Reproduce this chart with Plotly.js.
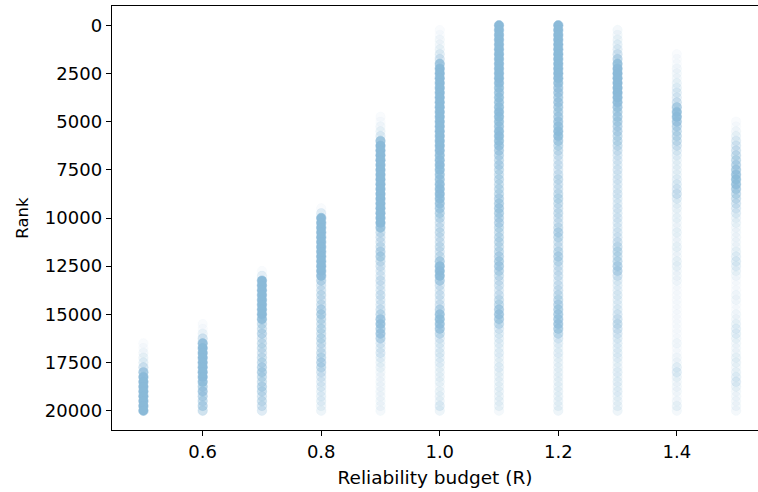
<!DOCTYPE html>
<html>
<head>
<meta charset="utf-8">
<script src="https://cdn.plot.ly/plotly-3.0.1.min.js"></script>
<style>
  html, body { margin: 0; padding: 0; background: #fff; }
  #chart { width: 758px; height: 492px; }
</style>
</head>
<body>
<div id="chart"></div>
<script>
// Reliability budgets on the x axis
const budgets = [0.5, 0.6, 0.7, 0.8, 0.9, 1.0, 1.1, 1.2, 1.3, 1.4, 1.5];

// Rank bins (width 250) on the y axis
const rankBins = [
  0, 250, 500, 750, 1000, 1250, 1500, 1750, 2000, 2250,
  2500, 2750, 3000, 3250, 3500, 3750, 4000, 4250, 4500, 4750,
  5000, 5250, 5500, 5750, 6000, 6250, 6500, 6750, 7000, 7250,
  7500, 7750, 8000, 8250, 8500, 8750, 9000, 9250, 9500, 9750,
  10000, 10250, 10500, 10750, 11000, 11250, 11500, 11750, 12000, 12250,
  12500, 12750, 13000, 13250, 13500, 13750, 14000, 14250, 14500, 14750,
  15000, 15250, 15500, 15750, 16000, 16250, 16500, 16750, 17000, 17250,
  17500, 17750, 18000, 18250, 18500, 18750, 19000, 19250, 19500, 19750,
  20000
];

// Number of runs landing in each rank bin, one array per budget
const runsR050 = [
  0,0,0,0,0,0,0,0,0,0, 0,0,0,0,0,0,0,0,0,0, 0,0,0,0,0,0,0,0,0,0,
  0,0,0,0,0,0,0,0,0,0, 0,0,0,0,0,0,0,0,0,0, 0,0,0,0,0,0,0,0,0,0,
  0,0,0,0,0,0,1,1,2,3, 4,8,25,60,100,100,100,100,100,100, 100
];
const runsR060 = [
  0,0,0,0,0,0,0,0,0,0, 0,0,0,0,0,0,0,0,0,0, 0,0,0,0,0,0,0,0,0,0,
  0,0,0,0,0,0,0,0,0,0, 0,0,0,0,0,0,0,0,0,0, 0,0,0,0,0,0,0,0,0,0,
  0,0,1,1,3,8,40,100,100,100, 100,100,100,100,40,18,25,15,12,15, 10
];
const runsR070 = [
  0,0,0,0,0,0,0,0,0,0, 0,0,0,0,0,0,0,0,0,0, 0,0,0,0,0,0,0,0,0,0,
  0,0,0,0,0,0,0,0,0,0, 0,0,0,0,0,0,0,0,0,0, 0,1,4,100,100,100,100,100,100,100,
  100,40,12,10,14,8,10,10,8,10, 12,15,18,12,10,14,12,8,10,8, 6
];
const runsR080 = [
  0,0,0,0,0,0,0,0,0,0, 0,0,0,0,0,0,0,0,0,0, 0,0,0,0,0,0,0,0,0,0,
  0,0,0,0,0,0,0,0,1,5, 100,100,100,100,100,100,100,100,100,100, 100,100,50,15,8,8,10,8,10,15,
  18,12,10,12,10,12,10,8,10,12, 15,12,8,6,5,5,4,4,4,3, 3
];
const runsR090 = [
  0,0,0,0,0,0,0,0,0,0, 0,0,0,0,0,0,0,0,0,1, 1,2,3,5,30,100,100,100,100,100,
  100,100,100,100,100,100,100,100,100,100, 100,100,30,10,8,8,10,15,18,10, 8,6,6,8,6,6,8,6,6,8,
  12,25,30,20,25,15,6,5,6,4, 3,3,2,2,2,2,2,2,2,2, 2
];
const runsR100 = [
  0,1,1,2,2,3,5,8,30,100, 100,100,100,100,100,100,100,100,100,100, 100,100,100,100,100,100,60,40,45,60,
  45,30,30,40,45,50,40,30,22,16, 12,8,8,10,8,8,10,8,10,20, 45,60,50,20,8,6,8,6,8,15,
  30,35,30,25,12,6,5,4,5,4, 4,3,3,3,3,2,3,3,3,5, 3
];
const runsR110 = [
  100,100,100,100,100,100,100,100,100,100, 100,100,50,35,30,35,30,35,50,45, 35,30,45,50,35,30,20,15,12,15,
  12,10,12,10,12,12,15,18,20,18, 15,15,12,10,12,12,10,12,15,18, 20,15,10,8,8,6,8,10,12,20,
  25,20,12,6,5,4,4,3,4,3, 3,4,3,3,3,3,3,3,3,3, 2
];
const runsR120 = [
  100,100,100,100,100,100,100,100,100,100, 100,60,35,25,25,20,25,20,18,20, 25,30,40,35,20,12,10,8,6,8,
  6,8,10,8,8,10,12,10,8,10, 8,8,10,15,12,8,8,12,15,12, 8,8,8,6,8,8,10,12,15,18,
  20,22,25,20,12,6,4,3,4,3, 3,3,3,3,3,3,3,3,3,3, 3
];
const runsR130 = [
  0,2,2,3,4,5,8,15,35,60, 90,90,90,90,90,60,40,25,18,20, 18,15,15,12,12,10,8,6,6,5,
  6,5,6,5,5,6,5,5,6,5, 6,5,5,6,6,8,10,12,10,12, 15,15,8,5,4,4,5,4,4,5,
  6,8,10,8,6,5,4,4,4,4, 3,3,4,3,4,3,4,3,3,3, 3
];
const runsR140 = [
  0,0,0,0,0,0,1,1,1,2, 2,2,3,4,5,5,8,20,40,45, 25,15,12,12,10,8,5,4,3,3,
  3,3,4,5,6,8,5,3,3,2, 3,2,2,3,2,2,3,2,2,3, 3,2,2,2,1,1,1,1,1,1,
  1,1,1,1,1,1,2,1,1,2, 2,4,5,3,2,2,2,1,2,3, 2
];
const runsR150 = [
  0,0,0,0,0,0,0,0,0,0, 0,0,0,0,0,0,0,0,0,0, 1,1,2,3,5,6,8,10,12,15,
  20,30,35,30,20,12,10,8,6,5, 3,3,2,2,2,2,2,3,4,5, 4,3,2,1,1,1,2,2,1,1,
  2,2,3,4,4,3,2,2,2,3, 3,2,3,4,5,3,2,2,2,2, 2
];

const runsByBudget = [runsR050, runsR060, runsR070, runsR080, runsR090, runsR100,
                      runsR110, runsR120, runsR130, runsR140, runsR150];

// Each marker is one translucent dot; stacked runs in a bin deepen its tint
const DOT_RGB = '138,185,216';
const DOT_ALPHA = 0.05;

const traces = budgets.map(function (b, k) {
  const runs = runsByBudget[k];
  const xs = [], ys = [], cols = [];
  rankBins.forEach(function (r, i) {
    const n = runs[i];
    if (n > 0) {
      xs.push(b);
      ys.push(r);
      const a = 1 - Math.pow(1 - DOT_ALPHA, n);
      cols.push('rgba(' + DOT_RGB + ',' + a.toFixed(4) + ')');
    }
  });
  return {
    type: 'scatter',
    mode: 'markers',
    x: xs,
    y: ys,
    hoverinfo: 'skip',
    showlegend: false,
    marker: {
      symbol: 'circle',
      size: 9.5,
      color: cols,
      line: { width: 0.5, color: cols }
    }
  };
});

const tickFont = { family: 'DejaVu Sans, sans-serif', size: 18, color: '#000' };
const xTitleFont = { family: 'DejaVu Sans, sans-serif', size: 18.5, color: '#000' };
const yTitleFont = { family: 'DejaVu Sans, sans-serif', size: 16.5, color: '#000' };

const layout = {
  width: 758,
  height: 492,
  margin: { l: 112, r: 0, t: 6, b: 62 },
  paper_bgcolor: '#fff',
  plot_bgcolor: '#fff',
  font: tickFont,
  xaxis: {
    range: [0.447, 1.537],
    tickvals: [0.6, 0.8, 1.0, 1.2, 1.4],
    ticktext: ['0.6', '0.8', '1.0', '1.2', '1.4'],
    ticks: 'outside',
    ticklen: 5,
    tickwidth: 1,
    tickcolor: '#000',
    showline: true,
    linecolor: '#000',
    linewidth: 1.3,
    mirror: true,
    showgrid: false,
    zeroline: false,
    tickfont: tickFont,
    title: { text: 'Reliability budget (R)', font: xTitleFont, standoff: 10 }
  },
  yaxis: {
    range: [21000, -1000],
    tickvals: [0, 2500, 5000, 7500, 10000, 12500, 15000, 17500, 20000],
    ticktext: ['0', '2500', '5000', '7500', '10000', '12500', '15000', '17500', '20000'],
    ticks: 'outside',
    ticklen: 5,
    tickwidth: 1,
    tickcolor: '#000',
    showline: true,
    linecolor: '#000',
    linewidth: 1.3,
    showgrid: false,
    zeroline: false,
    tickfont: tickFont,
    title: { text: 'Rank', font: yTitleFont, standoff: 12 }
  }
};

Plotly.newPlot('chart', traces, layout, { staticPlot: true, displayModeBar: false });
</script>
</body>
</html>
